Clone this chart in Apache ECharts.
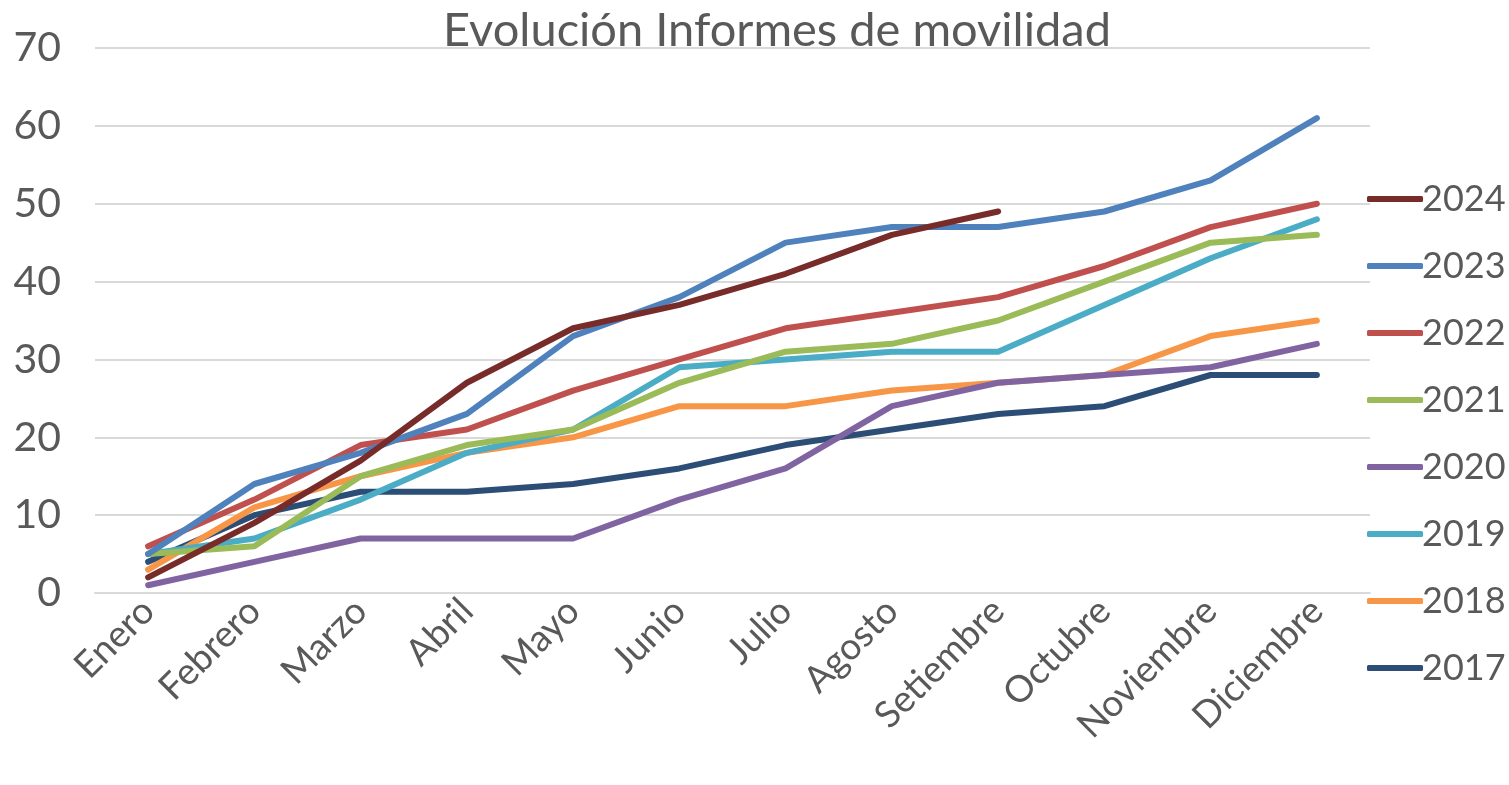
<!DOCTYPE html>
<html>
<head>
<meta charset="utf-8">
<script src="https://cdn.jsdelivr.net/npm/echarts@6/dist/echarts.min.js"></script>
<style>
  html, body { margin: 0; padding: 0; background: #fff; }
  #chart { width: 1509px; height: 785px; }
</style>
</head>
<body>
<div id="chart"></div>
<script>
// datos
var meses = ['Enero', 'Febrero', 'Marzo', 'Abril', 'Mayo', 'Junio', 'Julio', 'Agosto', 'Setiembre', 'Octubre', 'Noviembre', 'Diciembre'];
var anios = ['2024', '2023', '2022', '2021', '2020', '2019', '2018', '2017'];
var d2024 = [2, 9, 17, 27, 34, 37, 41, 46, 49];
var d2023 = [5, 14, 18, 23, 33, 38, 45, 47, 47, 49, 53, 61];
var d2022 = [6, 12, 19, 21, 26, 30, 34, 36, 38, 42, 47, 50];
var d2021 = [5, 6, 15, 19, 21, 27, 31, 32, 35, 40, 45, 46];
var d2020 = [1, 4, 7, 7, 7, 12, 16, 24, 27, 28, 29, 32];
var d2019 = [5, 7, 12, 18, 21, 29, 30, 31, 31, 37, 43, 48];
var d2018 = [3, 11, 15, 18, 20, 24, 24, 26, 27, 28, 33, 35];
var d2017 = [4, 10, 13, 13, 14, 16, 19, 21, 23, 24, 28, 28];

var colores = {
  '2024': '#772C2A', '2023': '#4F81BD', '2022': '#C0504D', '2021': '#9BBB59',
  '2020': '#8064A2', '2019': '#4BACC6', '2018': '#F79646', '2017': '#2C4D75'
};
var datos = {
  '2024': d2024, '2023': d2023, '2022': d2022, '2021': d2021,
  '2020': d2020, '2019': d2019, '2018': d2018, '2017': d2017
};

var fuente = 'Lato, "Open Sans", sans-serif';
var gris = '#595959';

// se dibujan de 2017 a 2024 para que 2024 quede encima
var series = anios.slice().reverse().map(function (a) {
  return {
    name: a,
    type: 'line',
    data: datos[a],
    symbol: 'none',
    smooth: false,
    color: colores[a],
    lineStyle: { width: 6, color: colores[a], cap: 'round', join: 'round' }
  };
});

var myChart = echarts.init(document.getElementById('chart'));
myChart.setOption({
  animation: false,
  title: {
    text: 'Evolución Informes de movilidad',
    left: 772,
    textAlign: 'center',
    top: 2,
    textStyle: { fontFamily: fuente, fontSize: 47, fontWeight: 'normal', color: gris }
  },
  legend: {
    data: anios,
    orient: 'vertical',
    left: 1362,
    top: 176,
    itemWidth: 56,
    itemHeight: 6,
    itemGap: 31,
    icon: 'roundRect',
    textStyle: { fontFamily: fuente, fontSize: 36, color: gris, padding: [0, 0, 0, -6] }
  },
  grid: { left: 95, right: 139, top: 48, bottom: 192, containLabel: false },
  xAxis: {
    type: 'category',
    data: meses,
    boundaryGap: true,
    axisLine: { lineStyle: { color: '#d9d9d9', width: 2 } },
    axisTick: { show: false },
    axisLabel: { rotate: 45, interval: 0, margin: 12, fontFamily: fuente, fontSize: 37, color: gris }
  },
  yAxis: {
    type: 'value',
    min: 0,
    max: 70,
    interval: 10,
    axisLine: { show: false },
    axisTick: { show: false },
    splitLine: { lineStyle: { color: '#d9d9d9', width: 2 } },
    axisLabel: { margin: 34, fontFamily: fuente, fontSize: 41, color: gris }
  },
  series: series
});
window.addEventListener('resize', function () { myChart.resize(); });
</script>
</body>
</html>
